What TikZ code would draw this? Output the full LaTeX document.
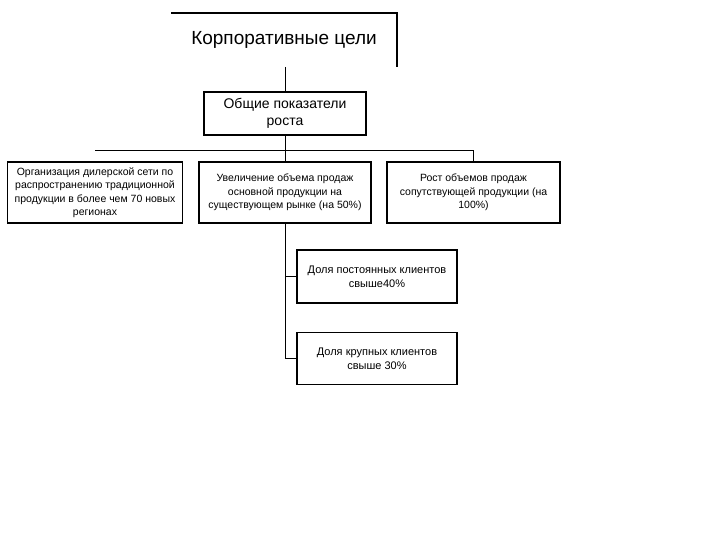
\documentclass[tikz,border=0pt]{standalone}
\usepackage{fontspec}
\setmainfont{Liberation Sans}
\usepackage{tikz}
\usetikzlibrary{positioning,calc}
\tikzset{
	goalbox/.style={rectangle, draw=black, line width=1.6pt, fill=white,
		align=center, inner sep=2pt, font=\fontsize{10.5}{13.5}\selectfont},
	linkline/.style={draw=black, line width=0.9pt}
}

\begin{document}
\begin{tikzpicture}[x=1pt,y=-1pt]
			\useasboundingbox (0,0) rectangle (720,540);
			% title with its open frame
			\node[font=\fontsize{19}{22}\selectfont] (title) at (284,40) {Корпоративные цели};
			\coordinate (frL) at (171,13);
			\coordinate (frR) at (397,13);
			\coordinate (frB) at (397,67);
			\coordinate (trunk) at (285,67);
			\draw[line width=1.6pt] (frL)--(frR)--(frB);
			\node[goalbox, minimum width=162pt, minimum height=43pt,
				font=\fontsize{14}{17}\selectfont] (rost) at (285,113.5) {Общие показатели\\роста};
			\draw[linkline] (trunk)--(rost.north);
			% second level
			\node[goalbox, minimum width=175pt, minimum height=61pt] (dil) at (95,192.5)
				{Организация дилерской сети по\\распространению традиционной\\продукции в более чем 70 новых\\регионах};
			\node[goalbox, minimum width=172pt, minimum height=61pt] (osn) at (285,192.5)
				{Увеличение объема продаж\\основной продукции на\\существующем рынке (на 50\%)};
			\node[goalbox, minimum width=173pt, minimum height=61pt] (sop) at (473.5,192.5)
				{Рост объемов продаж\\сопутствующей продукции (на\\100\%)};
			\coordinate (busL) at (95,150);
			\draw[linkline] (rost.south)--(osn.north);
			\draw[linkline] (busL)--(busL -| sop.north)--(sop.north);
			% third level
			\node[goalbox, minimum width=160pt, minimum height=53pt,
				font=\fontsize{11}{14}\selectfont] (post) at (377,276.5)
				{Доля постоянных клиентов\\свыше40\%};
			\node[goalbox, minimum width=160pt, minimum height=52pt,
				font=\fontsize{11}{14}\selectfont, below=28pt of post] (krup)
				{Доля крупных клиентов\\свыше 30\%};
			\draw[linkline] (osn.south)|-(post.west);
			\draw[linkline] (osn.south)|-(krup.west);
		\end{tikzpicture}
\end{document}
